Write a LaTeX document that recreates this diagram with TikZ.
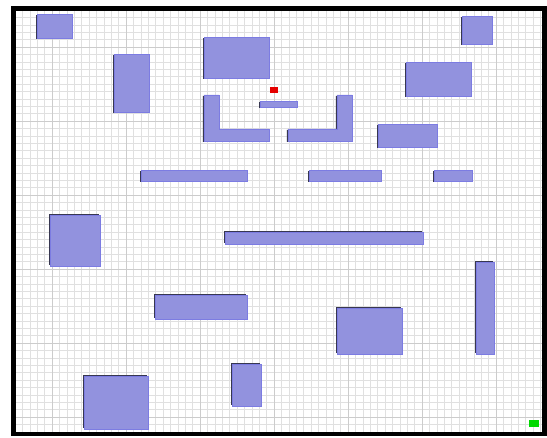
\documentclass[tikz,border=0pt]{standalone}
\usepackage{xcolor}
\usepackage{tikz}
\usetikzlibrary{backgrounds}
\definecolor{blockblue}{RGB}{146,146,222}
\definecolor{blockedge}{RGB}{124,124,226}
\definecolor{blockside}{RGB}{55,55,80}
\tikzset{
  %% obstacle block (top face)
  block/.style={fill=blockblue, draw=blockedge, line width=0.3pt},
  %% visible side of a block
  bside/.style={fill=blockside, draw=none},
  %% floor grid
  minorgrid/.style={draw=gray!24, line width=0.3pt},
  majorgrid/.style={draw=gray!40, line width=0.3pt},
  %% outer frame
  border/.style={draw=black, line width=2.3pt},
}

\begin{document}
\begin{tikzpicture}[x=0.02cm, y=-0.02cm]
  \useasboundingbox (0,0) rectangle (547,438);

  %% Floor
  \fill[white] (13,8) rectangle (545,434);
  \foreach \gx in {15,22.4,...,543}
    \draw[minorgrid] (\gx,9) -- (\gx,433);
  \foreach \gy in {10,17.4,...,433}
    \draw[minorgrid] (14,\gy) -- (544,\gy);
  \foreach \gx in {52,126,...,543}
    \draw[majorgrid] (\gx,9) -- (\gx,433);
  \foreach \gy in {47,121,...,433}
    \draw[majorgrid] (14,\gy) -- (544,\gy);

  %% Blocks in the upper half (side seen below-left)
  \foreach \xa/\ya/\xb/\yb in {37/14/72/38, 114/54/149/112, 204/37/269/78,
                               260/101/297/107, 462/16/492/44, 406/62/471/96,
                               378/124/437/147, 141/170/247/181,
                               309/170/381/181, 434/170/472/181} {
    \fill[bside] (\xa-1.2,\ya+1) rectangle (\xb-1.2,\yb+1);
    \draw[block] (\xa,\ya) rectangle (\xb,\yb);
  }

  %% Blocks in the lower half (side seen above-left)
  \foreach \xa/\ya/\xb/\yb in {50/215/100/266, 225/232/423/244,
                               476/262/494/354, 155/295/247/319,
                               337/308/402/354, 232/364/261/406,
                               84/376/148/429} {
    \fill[bside] (\xa-1.2,\ya-1) rectangle (\xb-1.2,\yb-1);
    \draw[block] (\xa,\ya) rectangle (\xb,\yb);
  }

  %% L-shaped walls
  \fill[bside] (202.8,96) -- (217.8,96) -- (217.8,130) -- (267.8,130)
               -- (267.8,142) -- (202.8,142) -- cycle;
  \draw[block] (204,95) -- (219,95) -- (219,129) -- (269,129)
               -- (269,141) -- (204,141) -- cycle;
  \fill[bside] (335.8,96) -- (350.8,96) -- (350.8,142) -- (286.8,142)
               -- (286.8,130) -- (335.8,130) -- cycle;
  \draw[block] (337,95) -- (352,95) -- (352,141) -- (288,141)
               -- (288,129) -- (337,129) -- cycle;

  %% Start and goal
  \fill[red!90!black] (270,87) rectangle (278,93);
  \fill[green!85!black] (529,420) rectangle (539,427);

  %% Frame
  \draw[border] (13.5,8.5) rectangle (544.5,434);
\end{tikzpicture}
\end{document}
